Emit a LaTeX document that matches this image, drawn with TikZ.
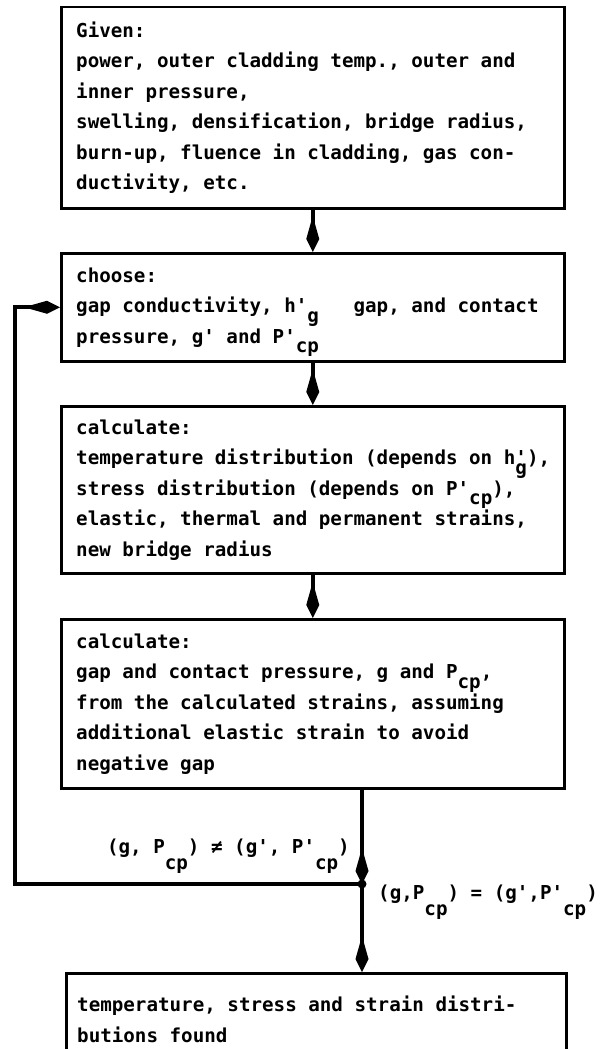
\documentclass[tikz,border=0pt]{standalone}
\usepackage{fontspec}
\setmonofont{DejaVu Sans Mono}
\usetikzlibrary{arrows.meta}
\newcommand{\tfont}{\ttfamily\bfseries\fontsize{19.2}{30.5}\selectfont\frenchspacing\spaceskip=\fontcharwd\font`x\relax\xspaceskip=\spaceskip}
\newcommand{\sbx}[1]{\raisebox{-0.5em}[0pt][0pt]{#1}}
\newcommand{\sbl}[1]{\raisebox{-0.85em}[0pt][0pt]{#1}}
\begin{document}
\begin{tikzpicture}[x=1pt,y=-1pt,
  every node/.style={font=\tfont},
  box/.style={draw, line width=2.5pt, anchor=north west, inner sep=0pt},
  txt/.style={anchor=west, align=left, inner sep=0pt},
  conn/.style={line width=4pt, -{Kite[length=36pt,width=13pt,inset=23pt]}},
  lbl/.style={inner sep=0pt}]
\clip (0,0) rectangle (603,1049);
\fill[white] (0,0) rectangle (603,1049);

\node[box, minimum width=503pt, minimum height=201pt] (b1) at (60,6) {};
\node[box, minimum width=503pt, minimum height=108pt] (b2) at (60,252) {};
\node[box, minimum width=503pt, minimum height=167pt] (b3) at (60,405) {};
\node[box, minimum width=503pt, minimum height=169pt] (b4) at (60,618) {};
\node[box, minimum width=500pt, minimum height=92pt] (b5) at (65,972) {};

\node[txt] (t1) at ([xshift=16pt]b1.west)
 {Given:\\
  power, outer cladding temp., outer and\\
  inner pressure,\\
  swelling, densification, bridge radius,\\
  burn-up, fluence in cladding, gas con-\\
  ductivity, etc.};

\node[txt] (t2) at ([xshift=16pt]b2.west)
 {choose:\\
  gap conductivity, h'\sbx{g}\ \ \ gap, and contact\\
  pressure, g' and P'\sbx{cp}};

\node[txt] (t3) at ([xshift=16pt]b3.west)
 {calculate:\\
  temperature distribution (depends on h\rlap{'}\sbx{g}),\\
  stress distribution (depends on P'\sbx{cp}),\\
  elastic, thermal and permanent strains,\\
  new bridge radius};

\node[txt] (t4) at ([xshift=16pt]b4.west)
 {calculate:\\
  gap and contact pressure, g and P\sbx{cp},\\
  from the calculated strains, assuming\\
  additional elastic strain to avoid\\
  negative gap};

\node[txt] (t5) at ([xshift=12pt]b5.west)
 {temperature, stress and strain distri-\\
  butions found};

\coordinate (j) at (362,884);
\coordinate (lp) at (15,884);

\draw[conn] (b1.south) -- (b2.north);
\draw[conn] (b2.south) -- (b3.north);
\draw[conn] (b3.south) -- (b4.north);
\draw[conn] (b4.south -| j) -- (j);
\draw[conn] (j) -- (j |- b5.north);
\draw[conn] (j) -- (lp) |- (b2.west);
\fill (j) circle (4.5pt);

\node[lbl, anchor=base east] (ne) at (350,853) {(g, P\sbl{cp}) ≠ (g', P'\sbl{cp})};
\node[lbl, anchor=base west] (eq) at (378,899) {(g,P\sbl{cp}) = (g',P'\sbl{cp})};
\end{tikzpicture}
\end{document}
